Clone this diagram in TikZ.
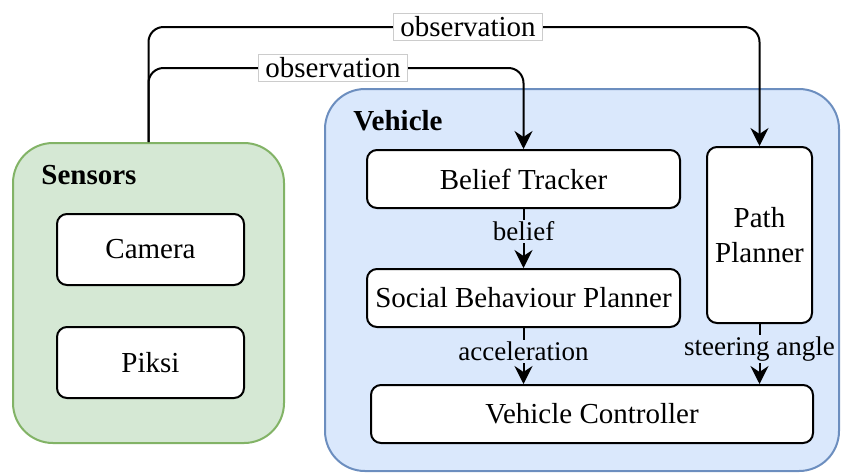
\documentclass[tikz,border=0pt]{standalone}
\usepackage{fontspec}
\setmainfont{Liberation Serif}
\usetikzlibrary{positioning,arrows.meta}
\definecolor{sensorfill}{HTML}{D5E8D4}
\definecolor{sensordraw}{HTML}{82B366}
\definecolor{vehiclefill}{HTML}{DAE8FC}
\definecolor{vehicledraw}{HTML}{6C8EBF}
\begin{document}
\begin{tikzpicture}[
        x=0.5pt, y=-0.5pt,
        font=\fontsize{14.5}{16.5}\selectfont,
        group/.style={rectangle, rounded corners=20pt, line width=1pt, inner sep=0pt},
        title/.style={font=\fontsize{14.5}{16.5}\selectfont\bfseries, anchor=base west, inner sep=0pt},
        box/.style={rectangle, draw, fill=white, rounded corners=5pt, line width=1pt, align=center, inner sep=0pt},
        arrow/.style={-{Stealth[length=9pt, width=9pt, inset=3pt]}, line width=1pt},
        obslabel/.style={sharp corners, fill=white, draw=black!20, line width=0.4pt, inner xsep=3.5pt, inner ysep=1.5pt},
        flowlabel/.style={fill=vehiclefill, inner sep=1pt, font=\fontsize{13.5}{15}\selectfont}
    ]
    \useasboundingbox (0,0) rectangle (841,473);

    % Sensors group
    \node[group, fill=sensorfill, draw=sensordraw, minimum width=135.5pt, minimum height=150pt] (sensors) at (148.5,293) {};
    \node[title] (sensorstitle) at (41,184) {Sensors};
    \node[box, minimum width=93.5pt, minimum height=35.5pt] (camera) at (150.5,249.5) {Camera};
    \node[box, minimum width=93.5pt, minimum height=35.5pt, below=20pt of camera] (piksi) {Piksi};

    % Vehicle group
    \node[group, fill=vehiclefill, draw=vehicledraw, minimum width=257pt, minimum height=191pt] (vehicle) at (582,280) {};
    \node[title] (vehicletitle) at (353,130) {Vehicle};
    \node[box, minimum width=156.5pt, minimum height=29pt] (tracker) at (523.5,179) {Belief Tracker};
    \node[box, minimum width=156.5pt, minimum height=29pt, below=29.5pt of tracker] (social) {Social Behaviour Planner};
    \node[box, minimum width=52.5pt, minimum height=88pt, font=\fontsize{14.5}{17.5}\selectfont] (planner) at (759.5,235) {Path\\Planner};
    \node[box, minimum width=221pt, minimum height=29pt] (controller) at (592,414) {Vehicle Controller};

    % Observation lines
    \coordinate (obshi) at (148.5,27);
    \coordinate (obslo) at (148.5,68);
    \draw[arrow, rounded corners=7.5pt] (sensors.north) -- (obshi)
        -- node[obslabel, pos=0.523] (obstop) {observation} (obshi -| planner.north) -- (planner.north);
    \draw[arrow, rounded corners=7.5pt] (sensors.north) -- (obslo)
        -- node[obslabel, pos=0.492] (obsbottom) {observation} (obslo -| tracker.north) -- (tracker.north);

    % Internal arrows
    \draw[arrow] (tracker.south) -- node[flowlabel, pos=0.38] (belieflabel) {belief} (social.north);
    \draw[arrow] (social.south) -- node[flowlabel, pos=0.42] (acclabel) {acceleration} (social.south |- controller.north);
    \draw[arrow] (planner.south) -- node[flowlabel, pos=0.42] (steerlabel) {steering angle} (planner.south |- controller.north);

\end{tikzpicture}
\end{document}
